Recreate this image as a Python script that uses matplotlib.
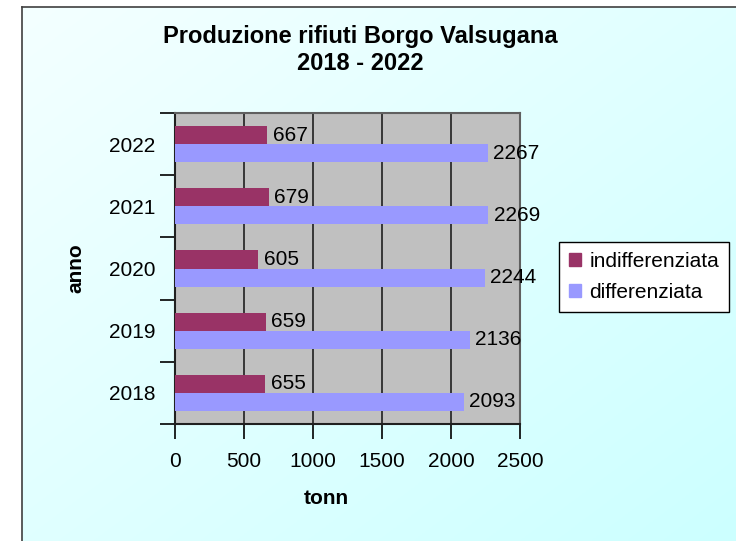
import numpy as np
import matplotlib
matplotlib.use('Agg')
import matplotlib.pyplot as plt
from matplotlib.patches import Patch

plt.rcParams['font.family'] = ['Liberation Sans', 'DejaVu Sans']

# dati
anni = ['2018', '2019', '2020', '2021', '2022']
indifferenziata = [655, 659, 605, 679, 667]
differenziata = [2093, 2136, 2244, 2269, 2267]
col_indiff = '#993366'
col_diff = '#9999FF'

W, H = 736, 541
fig = plt.figure(figsize=(W / 100, H / 100), dpi=100)
fig.patch.set_facecolor('white')

# sfondo sfumato con bordo a sinistra e in alto
bg = fig.add_axes([22 / W, 0, 1 - 22 / W, (H - 7) / H], zorder=-1)
gx, gy = np.meshgrid(np.linspace(0, 1, 200), np.linspace(0, 1, 200))
t = np.clip((gx + gy) / 2, 0, 1)
c0 = np.array([0xF4, 0xFF, 0xFF]) / 255
c1 = np.array([0xCC, 0xFF, 0xFF]) / 255
img = c0[None, None, :] * (1 - t[..., None]) + c1[None, None, :] * t[..., None]
bg.imshow(img, aspect='auto', extent=(0, 1, 0, 1), origin='upper')
bg.set_xlim(0, 1)
bg.set_ylim(0, 1)
bg.set_xticks([])
bg.set_yticks([])
for s in ['right', 'bottom']:
    bg.spines[s].set_visible(False)
for s in ['left', 'top']:
    bg.spines[s].set_color('#404040')
    bg.spines[s].set_linewidth(1.2)

ax = fig.add_axes([175 / W, (H - 424) / H, 345 / W, 311 / H])
ax.set_facecolor('#C0C0C0')

y = np.arange(len(anni))
h = 0.29
b1 = ax.barh(y + h / 2, indifferenziata, height=h, color=col_indiff, zorder=3)
b2 = ax.barh(y - h / 2, differenziata, height=h, color=col_diff, zorder=3)

for i in range(len(anni)):
    ax.text(indifferenziata[i] + 40, y[i] + h / 2, str(indifferenziata[i]),
            va='center', ha='left', fontsize=15, zorder=4)
    ax.text(differenziata[i] + 40, y[i] - h / 2, str(differenziata[i]),
            va='center', ha='left', fontsize=15, zorder=4)

ax.set_xlim(0, 2500)
ax.set_ylim(-0.5, len(anni) - 0.5)
ax.set_xticks(range(0, 2501, 500))
ax.tick_params(axis='x', labelsize=15, length=11, width=1.2, pad=9, direction='out')
ax.grid(axis='x', color='#202020', linewidth=1.2, zorder=1)

ax.set_yticks(np.arange(-0.5, len(anni), 1))
ax.set_yticklabels([])
ax.set_yticks(y, minor=True)
ax.set_yticklabels(anni, minor=True)
ax.tick_params(axis='y', which='major', length=11, width=1.2, direction='out')
ax.tick_params(axis='y', which='minor', length=0, labelsize=15, pad=14)

for s in ['left', 'bottom']:
    ax.spines[s].set_color('#202020')
    ax.spines[s].set_linewidth(1.5)
for s in ['top', 'right']:
    ax.spines[s].set_color('#606060')
    ax.spines[s].set_linewidth(1.5)

ax.set_xlabel('tonn', fontsize=15, fontweight='bold')
ax.xaxis.set_label_coords((326 - 175) / 345, -(498 - 424) / 311)
ax.xaxis.label.set_va('center')
ax.set_ylabel('anno', fontsize=15, fontweight='bold')
ax.yaxis.set_label_coords(-(175 - 76) / 345, 0.5)
ax.yaxis.label.set_va('center')

fig.text(360 / W, 1 - 50 / H, 'Produzione rifiuti Borgo Valsugana\n2018 - 2022',
         ha='center', va='center', fontsize=17, fontweight='bold', linespacing=1.2)

leg = fig.legend(handles=[Patch(color=col_indiff, label='indifferenziata'),
                          Patch(color=col_diff, label='differenziata')],
                 loc='upper left', bbox_to_anchor=(559 / W, 1 - 242 / H),
                 fontsize=15, frameon=True, fancybox=False, framealpha=1,
                 edgecolor='black', facecolor='white', handlelength=0.6,
                 handleheight=0.6, handletextpad=0.4, borderpad=0.47,
                 labelspacing=0.58, borderaxespad=0)
leg.get_frame().set_linewidth(1)

fig.savefig('out.png', dpi=100)
